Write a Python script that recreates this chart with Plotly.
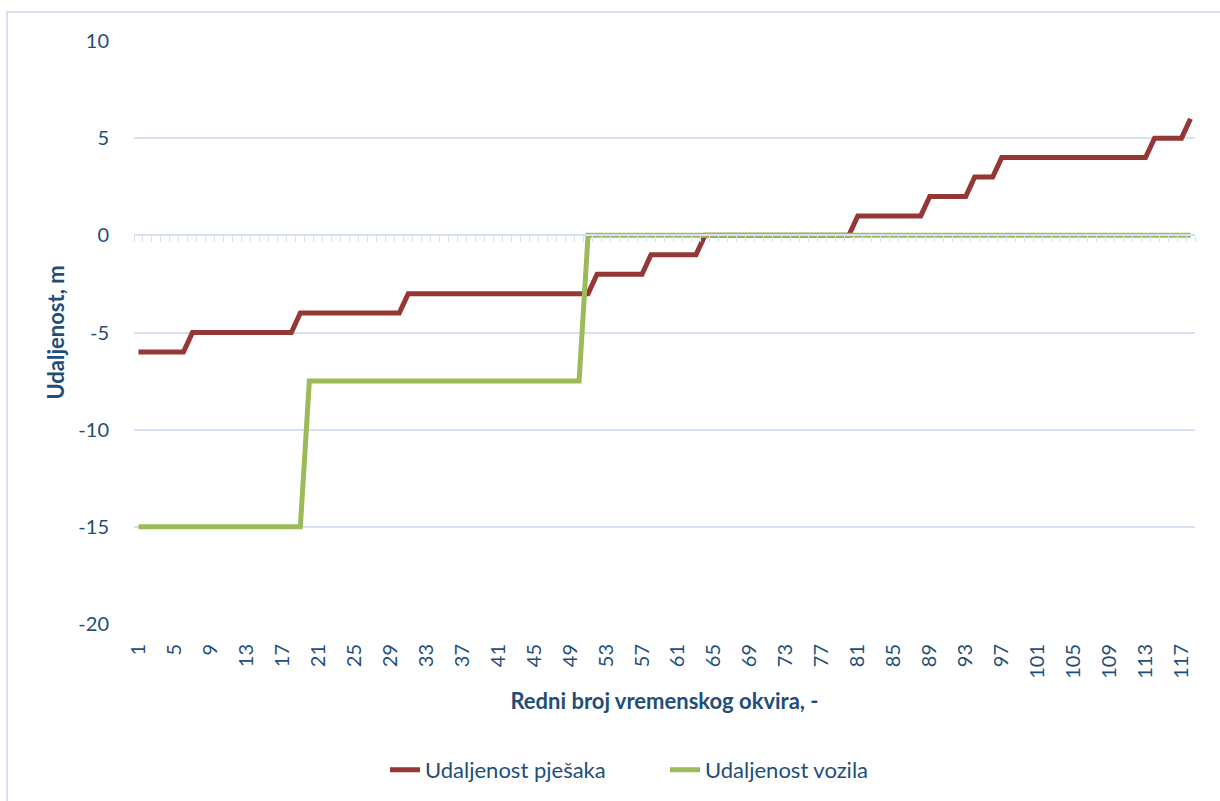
import plotly.graph_objects as go

frames = list(range(1, 119))

pjesaka = [
    -6, -6, -6, -6, -6, -6,
    -5, -5, -5, -5, -5, -5, -5, -5, -5, -5, -5, -5,
    -4, -4, -4, -4, -4, -4, -4, -4, -4, -4, -4, -4,
    -3, -3, -3, -3, -3, -3, -3, -3, -3, -3, -3, -3, -3, -3, -3, -3, -3, -3, -3, -3, -3,
    -2, -2, -2, -2, -2, -2,
    -1, -1, -1, -1, -1, -1,
    0, 0, 0, 0, 0, 0, 0, 0, 0, 0, 0, 0, 0, 0, 0, 0, 0,
    1, 1, 1, 1, 1, 1, 1, 1,
    2, 2, 2, 2, 2,
    3, 3, 3,
    4, 4, 4, 4, 4, 4, 4, 4, 4, 4, 4, 4, 4, 4, 4, 4, 4,
    5, 5, 5, 5,
    6,
]

vozila = [
    -15, -15, -15, -15, -15, -15, -15, -15, -15, -15, -15, -15, -15, -15, -15, -15, -15, -15, -15,
    -7.5, -7.5, -7.5, -7.5, -7.5, -7.5, -7.5, -7.5, -7.5, -7.5, -7.5, -7.5, -7.5, -7.5, -7.5, -7.5,
    -7.5, -7.5, -7.5, -7.5, -7.5, -7.5, -7.5, -7.5, -7.5, -7.5, -7.5, -7.5, -7.5, -7.5, -7.5,
    0, 0, 0, 0, 0, 0, 0, 0, 0, 0, 0, 0, 0, 0, 0, 0, 0, 0, 0, 0, 0, 0, 0, 0, 0, 0, 0, 0, 0, 0, 0, 0, 0, 0,
    0, 0, 0, 0, 0, 0, 0, 0, 0, 0, 0, 0, 0, 0, 0, 0, 0, 0, 0, 0, 0, 0, 0, 0, 0, 0, 0, 0, 0, 0, 0, 0, 0, 0,
]

x_tick_labels = list(range(1, 119, 4))
y_ticks = [10, 5, 0, -5, -10, -15, -20]
y_tick_text = ["10", "5", "0", "-5", "-10", "-15", "-20"]

series_names = ["Udaljenost pješaka", "Udaljenost vozila"]
x_title = "Redni broj vremenskog okvira, -"
y_title = "Udaljenost, m"

TEXT = "#1F4E79"
GRID = "#D6E1F2"
FONT = "Lato"

fig = go.Figure()
fig.add_trace(go.Scatter(x=frames, y=pjesaka, mode="lines", name=series_names[0],
                         line=dict(color="#953735", width=5)))
fig.add_trace(go.Scatter(x=frames, y=vozila, mode="lines", name=series_names[1],
                         line=dict(color="#9BBB59", width=5)))
# invisible helper trace on the zero-crossing category axis
fig.add_trace(go.Scatter(x=[frames[0]], y=[0], xaxis="x2", mode="markers",
                         marker=dict(opacity=0), showlegend=False, hoverinfo="skip"))

fig.update_layout(
    width=1220, height=801,
    margin=dict(l=134, r=25, t=41, b=176),
    paper_bgcolor="white", plot_bgcolor="white",
    font=dict(family=FONT, color=TEXT, size=20),
    showlegend=True,
    legend=dict(orientation="h", x=(385 - 134) / 1061, xanchor="left", y=-0.248, yanchor="middle",
                font=dict(size=22, color=TEXT), traceorder="normal",
                entrywidth=235, entrywidthmode="pixels"),
    xaxis=dict(range=[0.5, 118.5], tickmode="array", tickvals=x_tick_labels,
               ticktext=[str(v) for v in x_tick_labels], tickangle=-90,
               showgrid=False, zeroline=False, showline=False, ticks="",
               ticklabelstandoff=15, tickfont=dict(size=20, color=TEXT),
               title=dict(text="<b>" + x_title + "</b>", font=dict(size=22, color=TEXT), standoff=15)),
    xaxis2=dict(range=[0.5, 118.5], overlaying="x", anchor="free", position=2/3,
                side="bottom", tickmode="array", tickvals=[v - 0.5 for v in frames] + [118.5],
                ticks="outside", ticklen=6, tickwidth=1, tickcolor=GRID,
                showticklabels=False, showline=True, linecolor=GRID, linewidth=2,
                showgrid=False, zeroline=False),
    yaxis=dict(range=[-20, 10], tickmode="array", tickvals=y_ticks, ticktext=y_tick_text,
               showgrid=True, gridcolor=GRID, gridwidth=1.5, zeroline=False, showline=False,
               ticks="", ticklabelstandoff=24, tickfont=dict(size=20, color=TEXT),
               title=dict(text="<b>" + y_title + "</b>", font=dict(size=22, color=TEXT), standoff=7)),
    shapes=[dict(type="rect", xref="paper", yref="paper",
                 x0=(7 - 134) / 1061, x1=1.2, y0=-0.4, y1=(625 - 12) / 584,
                 line=dict(color=GRID, width=2), fillcolor="rgba(0,0,0,0)", layer="below")],
)

fig.write_html("out.html", config={"displayModeBar": False},
               post_script="document.body.style.margin='0';")
